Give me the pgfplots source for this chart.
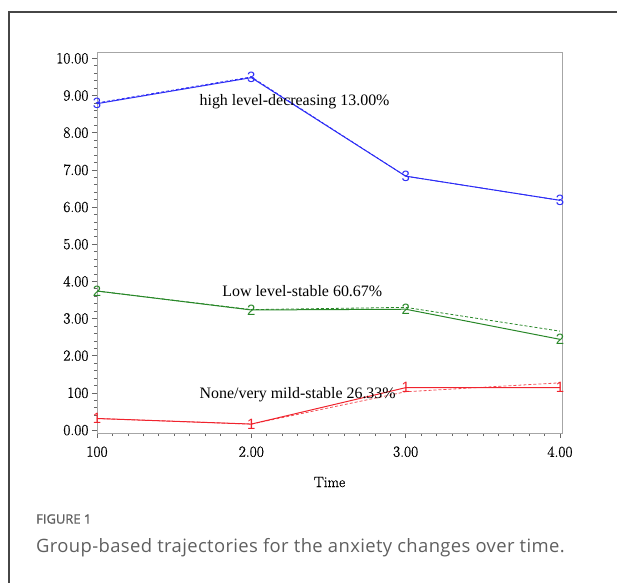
\documentclass[border=0pt]{standalone}
\usepackage{pgfplots}
\pgfplotsset{compat=1.18}
\usepackage{fontspec}
\newfontfamily\timesf{Liberation Serif}
\newfontfamily\capf[LetterSpace=2]{Open Sans}
\newfontfamily\capb[FakeBold=1.2]{Open Sans}
\newfontfamily\markf{Liberation Sans}
\newfontfamily\tickf[FakeBold=0.8]{Latin Modern Roman}
\definecolor{cblue}{RGB}{45,45,245}
\definecolor{cgreen}{RGB}{40,135,40}
\definecolor{cred}{RGB}{240,35,45}
\definecolor{capgray}{RGB}{95,95,95}
\definecolor{framegray}{RGB}{70,70,70}

\begin{document}
\begin{tikzpicture}
\useasboundingbox (0,0) rectangle (617bp,-583bp);
\draw[framegray, line width=1.2bp] (9bp,-583bp) -- (9bp,-12bp) -- (617bp,-12bp);
\begin{axis}[
  at={(97bp,-433bp)}, anchor=south west,
  width=465bp, height=381bp, scale only axis,
  xmin=1, xmax=4.013, ymin=-0.08, ymax=10.17,
  xtick={1,2,3,4}, xticklabels={100,2.00,3.00,4.00},
  ytick={0,1,2,3,4,5,6,7,8,9,10},
  yticklabels={0.00,100,2.00,3.00,4.00,5.00,6.00,7.00,8.00,9.00,10.00},
  minor x tick num=9, minor y tick num=4,
  tick align=outside, xtick pos=left, ytick pos=left,
  axis line style={black!35, line width=0.8bp},
  major tick length=5bp, minor tick length=3bp,
  every tick/.style={black!60, line width=0.6bp},
  /pgf/number format/assume math mode=true,
  tick label style={font=\tickf\fontsize{15.5}{15.5}\selectfont},
  xticklabel style={yshift=-5bp},
  xlabel={Time},
  xlabel style={font=\tickf\fontsize{15}{15}\selectfont, at={(axis description cs:0.5,0)}, anchor=center, yshift=-49bp},
  clip=false,
]
% predicted (dashed)
\addplot[cblue, dash pattern=on 3bp off 2bp, line width=0.8bp] coordinates {(1,8.80) (2,9.50) (3,6.83) (4,6.18)};
\addplot[cgreen, dash pattern=on 3bp off 2bp, line width=0.8bp] coordinates {(1,3.74) (2,3.24) (3,3.30) (4,2.66)};
\addplot[cred!80, dash pattern=on 3bp off 2bp, line width=0.8bp] coordinates {(1,0.31) (2,0.16) (3,1.03) (4,1.27)};
% observed (solid with group numbers)
\addplot[cblue, line width=1bp, mark=text, text mark={3}, text mark as node=true,
  text mark style={font=\markf\fontsize{15}{15}\selectfont, text=cblue, inner sep=0pt}]
  coordinates {(1,8.78) (2,9.48) (3,6.83) (4,6.18)};
\addplot[cgreen, line width=1bp, mark=text, text mark={2}, text mark as node=true,
  text mark style={font=\markf\fontsize{15}{15}\selectfont, text=cgreen, inner sep=0pt}]
  coordinates {(1,3.74) (2,3.23) (3,3.25) (4,2.44)};
\addplot[cred, line width=1bp, mark=text, text mark={1}, text mark as node=true,
  text mark style={font=\markf\fontsize{15}{15}\selectfont, text=cred, inner sep=0pt}]
  coordinates {(1,0.31) (2,0.16) (3,1.14) (4,1.14)};
\node[font=\timesf\fontsize{16}{16}\selectfont] at (axis cs:2.28,8.82) {high level-decreasing 13.00\%};
\node[font=\timesf\fontsize{16}{16}\selectfont] at (axis cs:2.33,3.75) {Low level-stable 60.67\%};
\node[font=\timesf\fontsize{16}{16}\selectfont] at (axis cs:2.30,0.94) {None/very mild-stable 26.33\%};
\end{axis}
\node[anchor=west, inner sep=0pt, font=\capb\fontsize{13}{13}\selectfont, text=capgray] at (36bp,-519bp) {FIGURE 1};
\node[anchor=west, inner sep=0pt, font=\capf\fontsize{18.5}{18.5}\selectfont, text=capgray] at (36bp,-548bp) {Group-based trajectories for the anxiety changes over time.};
\end{tikzpicture}
\end{document}
